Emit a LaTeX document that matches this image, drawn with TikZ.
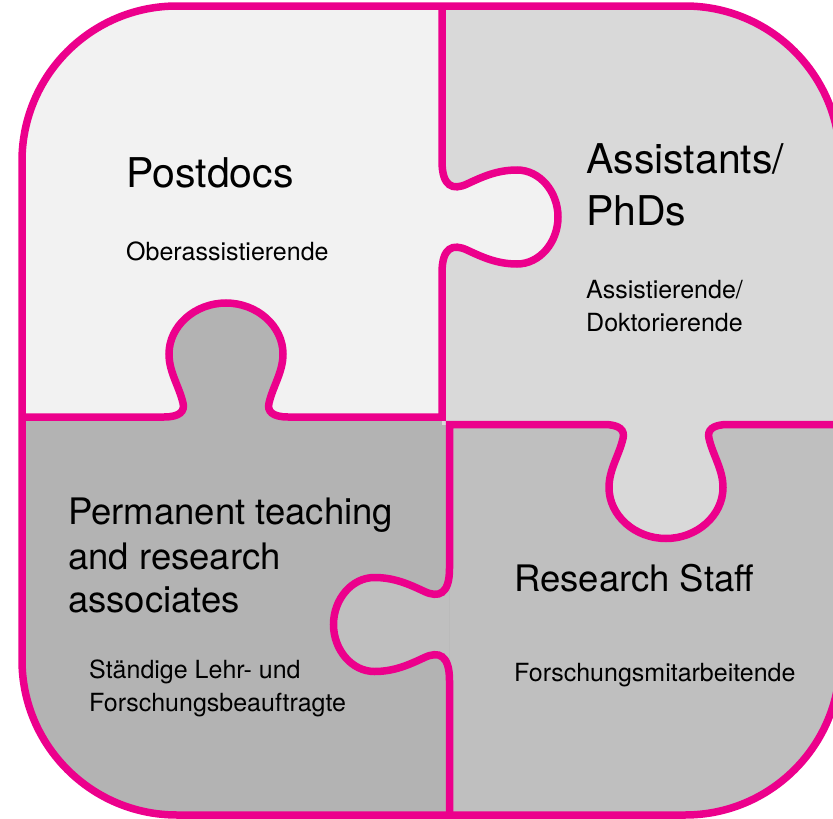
\documentclass[tikz,border=0pt]{standalone}
\usepackage{fontspec}
\setmainfont{TeX Gyre Heros}
\definecolor{pk}{RGB}{236,0,140}
\definecolor{cTL}{HTML}{F2F2F2}
\definecolor{cTR}{HTML}{D9D9D9}
\definecolor{cBL}{HTML}{B3B3B3}
\definecolor{cBR}{HTML}{BFBFBF}
% tab on a vertical edge: #1 edge x, #2 centre y, #3 outward (+1/-1), #4 traversal (+1 down/-1 up)
\newcommand{\vtab}[4]{%
({#1},{#2+(#4)*(-56)})%
.. controls ({#1},{#2+(#4)*(-30)}) and ({#1+(#3)*11},{#2+(#4)*(-26.5)}) .. ({#1+(#3)*25},{#2+(#4)*(-33)})%
.. controls ({#1+(#3)*40},{#2+(#4)*(-40)}) and ({#1+(#3)*55},{#2+(#4)*(-47)}) .. ({#1+(#3)*75},{#2+(#4)*(-47)})%
.. controls ({#1+(#3)*98},{#2+(#4)*(-47)}) and ({#1+(#3)*116},{#2+(#4)*(-25)}) .. ({#1+(#3)*116},{#2})%
.. controls ({#1+(#3)*116},{#2+(#4)*25}) and ({#1+(#3)*98},{#2+(#4)*47}) .. ({#1+(#3)*75},{#2+(#4)*47})%
.. controls ({#1+(#3)*55},{#2+(#4)*47}) and ({#1+(#3)*40},{#2+(#4)*40}) .. ({#1+(#3)*25},{#2+(#4)*33})%
.. controls ({#1+(#3)*11},{#2+(#4)*26.5}) and ({#1},{#2+(#4)*30}) .. ({#1},{#2+(#4)*56})}
% tab on a horizontal edge: #1 centre x, #2 edge y, #3 outward (+1 down/-1 up), #4 traversal (+1 right/-1 left)
\newcommand{\htab}[4]{%
({#1+(#4)*(-62)},{#2})%
.. controls ({#1+(#4)*(-46)},{#2}) and ({#1+(#4)*(-41)},{#2+(#3)*6}) .. ({#1+(#4)*(-43)},{#2+(#3)*14})%
.. controls ({#1+(#4)*(-47)},{#2+(#3)*31}) and ({#1+(#4)*(-57)},{#2+(#3)*45}) .. ({#1+(#4)*(-57)},{#2+(#3)*63})%
.. controls ({#1+(#4)*(-57)},{#2+(#3)*91}) and ({#1+(#4)*(-31)},{#2+(#3)*114}) .. ({#1},{#2+(#3)*114})%
.. controls ({#1+(#4)*31},{#2+(#3)*114}) and ({#1+(#4)*57},{#2+(#3)*91}) .. ({#1+(#4)*57},{#2+(#3)*63})%
.. controls ({#1+(#4)*57},{#2+(#3)*45}) and ({#1+(#4)*47},{#2+(#3)*31}) .. ({#1+(#4)*43},{#2+(#3)*14})%
.. controls ({#1+(#4)*41},{#2+(#3)*6}) and ({#1+(#4)*46},{#2}) .. ({#1+(#4)*62},{#2})}
\tikzset{
  pkline/.style={draw=pk, line width=7.5pt},
  bigtitle/.style={anchor=base west, inner sep=0pt, font=\fontsize{41}{49}\selectfont},
  midtitle/.style={anchor=base west, inner sep=0pt, font=\fontsize{36.5}{44}\selectfont},
  subtxt/.style={anchor=base west, inner sep=0pt, font=\fontsize{25}{31}\selectfont},
}
\begin{document}
\begin{tikzpicture}[x=1pt, y=-1pt]
\useasboundingbox (0,0) rectangle (833,819);
\begin{scope}[overlay]
\clip (0,0) rectangle (833,819);
\begin{scope}
\clip[rounded corners=155pt] (22,6) rectangle (840,815);
\fill[cBL] (0,417) rectangle (449.5,830);
\fill[cTL] (0,0) rectangle (442,417);
\fill[cTR] (442,0) rectangle (850,424.5);
\fill[cBR] (449.5,424.5) rectangle (850,830);
\fill[cTL] \vtab{442}{217}{1}{1} -- cycle;
\fill[cBL] \htab{226}{417}{-1}{1} -- cycle;
\fill[cTR] \htab{666}{424.5}{1}{1} -- cycle;
\fill[cBR] \vtab{449.5}{624.5}{-1}{1} -- cycle;
\draw[pkline] (442,0) -- \vtab{442}{217}{1}{1} -- (442,417) -- \htab{226}{417}{-1}{-1} -- (0,417);
\draw[pkline] (449.5,830) -- \vtab{449.5}{624.5}{-1}{-1} -- (449.5,424.5) -- \htab{666}{424.5}{1}{1} -- (850,424.5);
\end{scope}
\draw[pkline, rounded corners=155pt] (22,6) rectangle (840,815);
% texts
\node[bigtitle] (pd) at (126,187) {Postdocs};
\node[subtxt] (pds) at (126,260) {Oberassistierende};
\node[bigtitle] (as1) at (586,173) {Assistants/};
\node[bigtitle] (as2) at (586,225) {PhDs};
\node[subtxt] (ass1) at (586,298) {Assistierende/};
\node[subtxt] (ass2) at (586,331) {Doktorierende};
\node[midtitle] (pm1) at (68,524) {Permanent teaching};
\node[midtitle] (pm2) at (68,569) {and research};
\node[midtitle] (pm3) at (68,612) {associates};
\node[subtxt] (pms1) at (89,678) {Ständige Lehr- und};
\node[subtxt] (pms2) at (89,711) {Forschungsbeauftragte};
\node[midtitle] (rs) at (514,591) {Research Staff};
\node[subtxt] (rss) at (514,681) {Forschungsmitarbeitende};
\end{scope}
\end{tikzpicture}
\end{document}
